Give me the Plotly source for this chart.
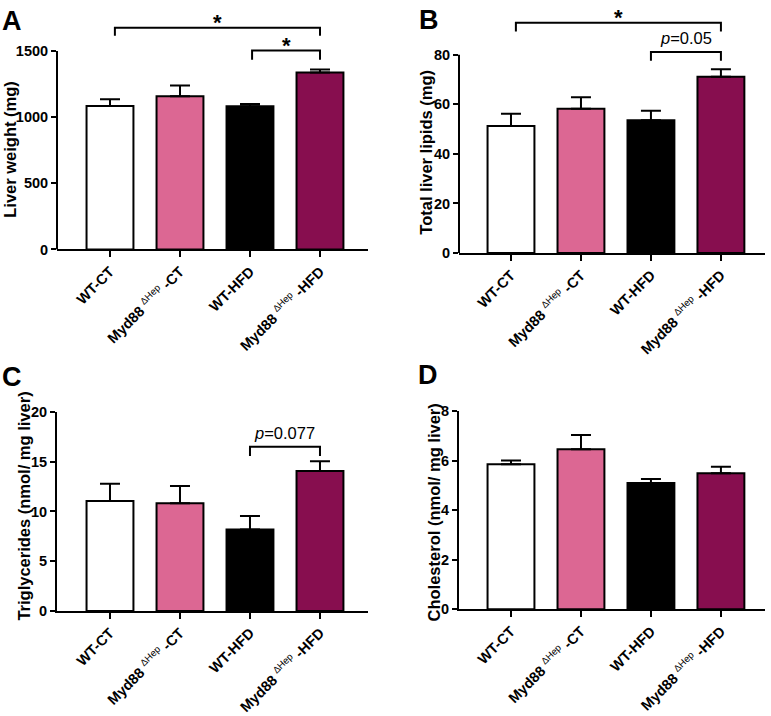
import plotly.graph_objects as go

W, H = 771, 716

SUP = '<sup><span style="font-size:9.5px;font-weight:normal;color:#000000">ΔHep</span></sup>'
categories = ["WT-CT", "Myd88 " + SUP + " -CT", "WT-HFD", "Myd88 " + SUP + " -HFD"]
bar_colors = ["#ffffff", "#dc6793", "#000000", "#870e4f"]

# Panel A: Liver weight (mg)
liver_weight = [1085, 1158, 1083, 1338]
liver_weight_err = [50, 82, 16, 22]
# Panel B: Total liver lipids (mg)
liver_lipids = [51.2, 58.2, 53.6, 71.1]
liver_lipids_err = [5.0, 4.6, 3.8, 3.0]
# Panel C: Triglycerides (nmol/ mg liver)
triglycerides = [11.06, 10.82, 8.2, 14.07]
triglycerides_err = [1.73, 1.74, 1.34, 0.98]
# Panel D: Cholesterol (nmol/ mg liver)
cholesterol = [5.85, 6.46, 5.1, 5.49]
cholesterol_err = [0.16, 0.57, 0.16, 0.26]

# significance brackets: (x_left, x_right, y_low, y_high, label)
brackets_A = [(0.07, 3, 1616, 1675, "*"), (2.03, 3, 1434, 1503, "*")]
brackets_B = [(0.07, 3, 89.3, 92.9, "*"), (2.0, 3, 77.5, 81.1, "<i>p</i>=0.05")]
brackets_C = [(2.0, 3, 15.58, 16.5, "<i>p</i>=0.077")]

yticks_A = [0, 500, 1000, 1500]
yticks_B = [0, 20, 40, 60, 80]
yticks_C = [0, 5, 10, 15, 20]
yticks_D = [0, 2, 4, 6, 8]

FONT = "Liberation Sans"


def xdom(p0, p1):
    return [p0 / W, p1 / W]


def ydom(ptop, pbot):
    return [(H - pbot) / H, (H - ptop) / H]


panels = [
    dict(v=liver_weight, e=liver_weight_err, xd=(57, 368), top=4, zero=247, tickpx=44, tmax=1500,
         br=brackets_A, ticks=yticks_A, title="Liver weight (mg)", tpos=(10, 145), letter="A", lpos=(0, -4),
         xr=(-0.757, 3.686), extend=True),
    dict(v=liver_lipids, e=liver_lipids_err, xd=(459, 765), top=2, zero=250.7, tickpx=47.7, tmax=80,
         br=brackets_B, ticks=yticks_B, title="Total liver lipids (mg)", tpos=(426, 148), letter="B", lpos=(417, -5),
         xr=(-0.743, 3.63), extend=True),
    dict(v=triglycerides, e=triglycerides_err, xd=(57, 368), top=413.3, zero=616.7, tickpx=413.3, tmax=20,
         br=brackets_C, ticks=yticks_C, title="Triglycerides (nmol/ mg liver)", tpos=(24, 510), letter="C", lpos=(0, 360),
         xr=(-0.757, 3.686), extend=False),
    dict(v=cholesterol, e=cholesterol_err, xd=(459, 765), top=412.3, zero=615, tickpx=412.3, tmax=8,
         br=[], ticks=yticks_D, title="Cholesterol (nmol/ mg liver)", tpos=(434, 516), letter="D", lpos=(416, 358),
         xr=(-0.743, 3.63), extend=False),
]

fig = go.Figure()
annotations = []
shapes = []
xs = [0, 1, 2, 3]

for i, p in enumerate(panels):
    n = "" if i == 0 else str(i + 1)
    xa, ya = "x" + n, "y" + n
    fig.add_trace(go.Bar(
        x=xs, y=p["v"], width=0.67, xaxis=xa, yaxis=ya,
        marker=dict(color=bar_colors, line=dict(color="black", width=2)),
        error_y=dict(type="data", symmetric=False, array=p["e"], arrayminus=[0] * 4,
                     color="black", thickness=2, width=10),
        showlegend=False, hoverinfo="skip",
    ))
    for (x0, x1, yl, yh, lab) in p["br"]:
        fig.add_trace(go.Scatter(
            x=[x0, x0, x1, x1], y=[yl, yh, yh, yl], mode="lines",
            line=dict(color="black", width=2), xaxis=xa, yaxis=ya,
            showlegend=False, hoverinfo="skip",
        ))
        if lab == "*":
            annotations.append(dict(x=(x0 + x1) / 2, y=yh, xref=xa, yref=ya, text="<b>*</b>",
                                    showarrow=False, yanchor="bottom", yshift=-9,
                                    font=dict(family=FONT, size=22, color="black")))
        else:
            annotations.append(dict(x=(x0 + x1) / 2, y=yh, xref=xa, yref=ya, text=lab,
                                    showarrow=False, yanchor="bottom", yshift=3,
                                    font=dict(family=FONT, size=16.5, color="black")))

    rng_top = p["tmax"] * (p["zero"] - p["top"]) / (p["zero"] - p["tickpx"])
    axkey = "xaxis" + n
    aykey = "yaxis" + n
    fig.layout[axkey] = dict(
        domain=xdom(*p["xd"]), range=list(p["xr"]), anchor=ya,
        tickvals=xs, ticktext=categories, tickangle=-45,
        showline=True, linecolor="black", linewidth=2,
        ticks="outside", ticklen=6, tickwidth=2, tickcolor="black",
        showgrid=False, zeroline=False, fixedrange=True,
        tickfont=dict(family=FONT, size=14.5, color="black", weight="bold"),
    )
    fig.layout[aykey] = dict(
        domain=ydom(p["top"], p["zero"]), range=[0, rng_top], anchor=xa,
        tickvals=p["ticks"], ticktext=[str(t) for t in p["ticks"]],
        showline=not p["extend"], linecolor="black", linewidth=2,
        ticks="outside", ticklen=5, tickwidth=2, tickcolor="black",
        showgrid=False, zeroline=False, fixedrange=True,
        tickfont=dict(family=FONT, size=14.5, color="black", weight="bold"),
    )
    if p["extend"]:
        shapes.append(dict(type="line", xref=xa + " domain", yref=ya, x0=0, x1=0,
                           y0=0, y1=p["tmax"], line=dict(color="black", width=2)))
    annotations.append(dict(x=p["tpos"][0] / W, y=1 - p["tpos"][1] / H, xref="paper", yref="paper",
                            text=p["title"], textangle=-90, showarrow=False,
                            xanchor="center", yanchor="middle",
                            font=dict(family=FONT, size=16.5, color="black", weight="bold")))
    annotations.append(dict(x=p["lpos"][0] / W, y=1 - p["lpos"][1] / H, xref="paper", yref="paper",
                            text=p["letter"], showarrow=False, xanchor="left", yanchor="top",
                            font=dict(family=FONT, size=27, color="black", weight="bold")))

fig.update_layout(
    width=W, height=H, autosize=False,
    margin=dict(l=0, r=0, t=0, b=0),
    paper_bgcolor="white", plot_bgcolor="white",
    annotations=annotations, shapes=shapes,
    bargap=0.3,
)

fig.write_html(
    "out.html",
    config={"displayModeBar": False, "staticPlot": True},
    post_script="document.body.style.margin='0';document.body.style.overflow='hidden';",
)
